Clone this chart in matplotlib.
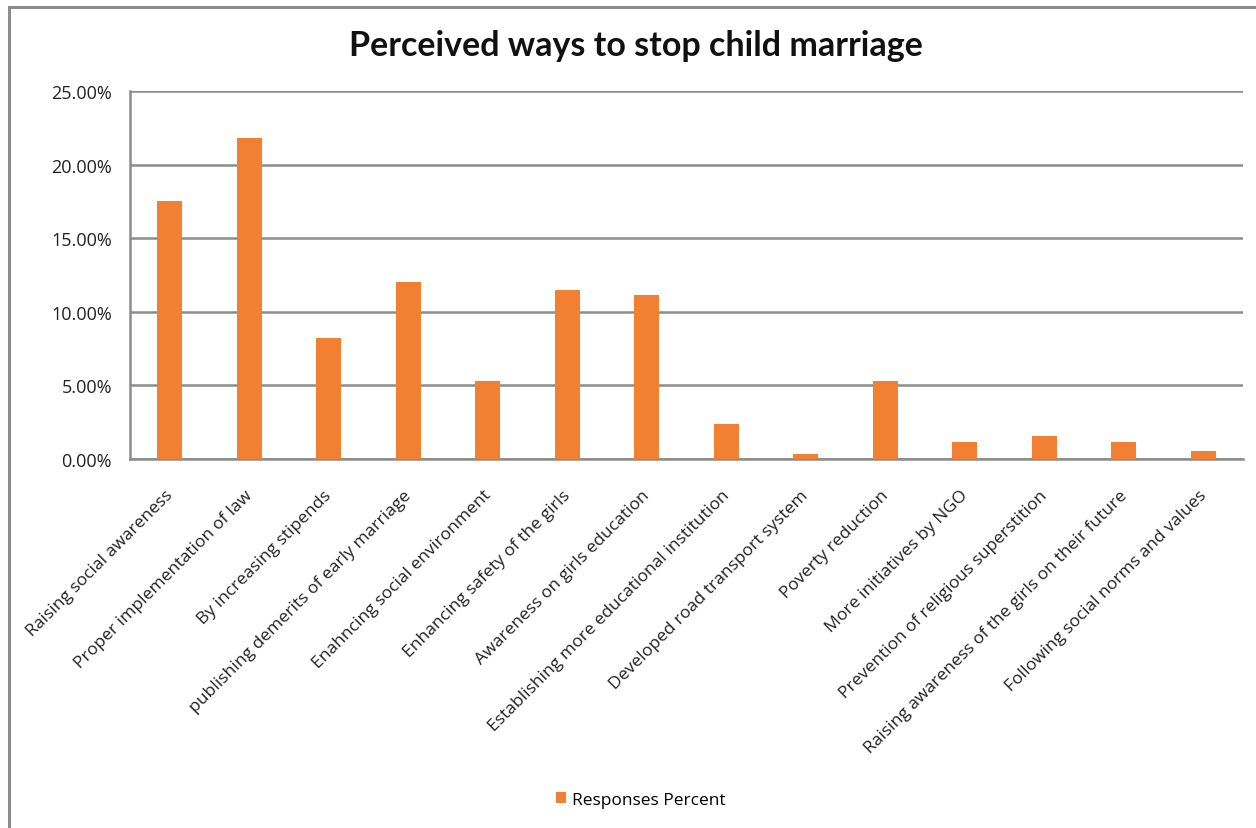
import matplotlib
matplotlib.use("Agg")
import matplotlib.pyplot as plt
from matplotlib.patches import Rectangle
from matplotlib.ticker import FuncFormatter, MultipleLocator
from matplotlib.transforms import ScaledTranslation

categories = [
    "Raising social awareness",
    "Proper implementation of law",
    "By increasing stipends",
    "publishing demerits of early marriage",
    "Enahncing social environment",
    "Enhancing safety of the girls",
    "Awareness on girls education",
    "Establishing more educational institution",
    "Developed road transport system",
    "Poverty reduction",
    "More initiatives by NGO",
    "Prevention of religious superstition",
    "Raising awareness of the girls on their future",
    "Following social norms and values",
]
responses_percent = [17.53, 21.80, 8.24, 12.02, 5.32, 11.48, 11.16, 2.40, 0.31, 5.32, 1.13, 1.56, 1.13, 0.54]
series_name = "Responses Percent"
title = "Perceived ways to stop child marriage"

plt.rcParams['font.family'] = ['Open Sans', 'DejaVu Sans']
orange = "#f28033"
grid = "#8c8c8c"

fig = plt.figure(figsize=(12.56, 8.29), dpi=100)
fig.patches.append(Rectangle((8.5/1256, -0.05), 1.2, 1 - 7.5/829 + 0.05, transform=fig.transFigure,
                             fill=False, edgecolor="#8c8c8c", linewidth=2.2))
ax = fig.add_axes([130/1256, 1-460/829, (1243-130)/1256, (460-92)/829])

x = range(len(categories))
bars = ax.bar(x, responses_percent, width=0.31, color=orange, label=series_name, zorder=3)
ax.set_xlim(-0.5, len(categories)-0.5)
ax.set_ylim(0, 25)
ax.yaxis.set_major_locator(MultipleLocator(5))
ax.yaxis.set_major_formatter(FuncFormatter(lambda v, p: f"{v:.2f}%"))
ax.grid(axis='y', color=grid, linewidth=1.8, zorder=0)
for s in ['top', 'right']:
    ax.spines[s].set_visible(False)
ax.spines['left'].set_color(grid)
ax.spines['left'].set_linewidth(1.8)
ax.spines['bottom'].set_color(grid)
ax.spines['bottom'].set_linewidth(1.8)
ax.tick_params(axis='y', length=0, labelsize=13, colors="#222222", pad=13)
ax.set_xticks(list(x))
ax.set_xticklabels(categories, rotation=45, ha='right', rotation_mode='anchor', fontsize=12.6, color="#222222")
ax.tick_params(axis='x', length=0, pad=20)
shift = ScaledTranslation(-5/100, 0, fig.dpi_scale_trans)
for lbl in ax.get_xticklabels():
    lbl.set_transform(lbl.get_transform() + shift)

fig.text(636/1256, 1-46/829, title, ha='center', va='center', fontsize=24.5, fontweight='bold',
         color="#111111", family=['Lato', 'DejaVu Sans'])
fig.legend(handles=[bars], labels=[series_name], loc='center', bbox_to_anchor=(641/1256, 1-801/829),
           frameon=False, fontsize=12.5, handlelength=0.6, handleheight=0.6, handletextpad=0.35)

fig.savefig("out.png", dpi=100)
